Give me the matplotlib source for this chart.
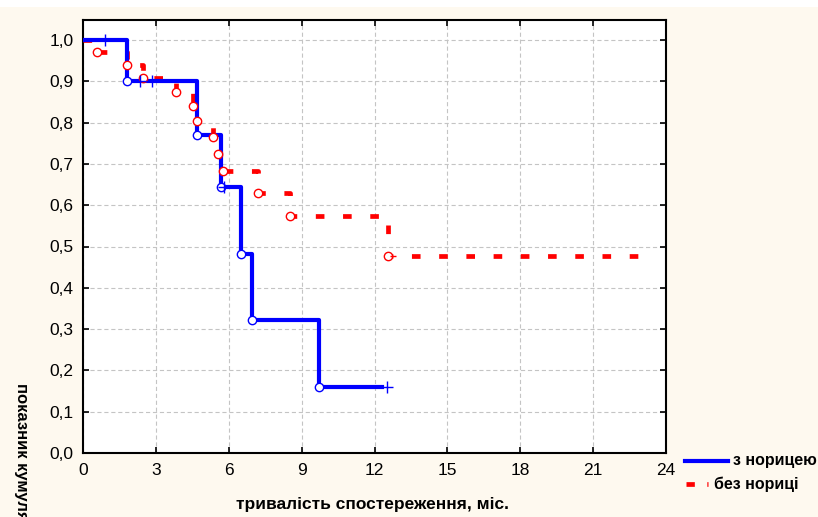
import matplotlib
matplotlib.use("Agg")
import matplotlib.pyplot as plt
from matplotlib.lines import Line2D
from matplotlib.patches import Rectangle

# Kaplan-Meier steps
# group "з норицею" (blue)
t_blue = [0, 1.8, 4.7, 5.68, 6.5, 6.95, 9.71]
s_blue = [1.0, 0.9, 0.771, 0.643, 0.482, 0.321, 0.161]
end_blue = 12.3
cens_t_blue = [0.9, 2.35, 2.84, 5.8, 12.5]
cens_s_blue = [1.0, 0.9, 0.9, 0.643, 0.161]

# group "без нориці" (red)
t_red = [0, 0.59, 1.8, 2.45, 3.83, 4.54, 4.68, 5.34, 5.57, 5.77, 7.21, 8.52, 12.57]
s_red = [1.0, 0.970, 0.939, 0.909, 0.875, 0.840, 0.804, 0.764, 0.724, 0.684, 0.629, 0.574, 0.478]
end_red = 23.5
cens_t_red = [12.75]
cens_s_red = [0.478]

xticks = [0, 3, 6, 9, 12, 15, 18, 21, 24]
yticks = [0.0, 0.1, 0.2, 0.3, 0.4, 0.5, 0.6, 0.7, 0.8, 0.9, 1.0]

plt.rcParams['font.family'] = ['Liberation Sans', 'DejaVu Sans']
plt.rcParams['lines.scale_dashes'] = False

fig = plt.figure(figsize=(8.18, 5.17), dpi=100, facecolor='#fef9ef')
# white strip at the very top (cut-off title area)
fig.add_artist(Rectangle((0, 1 - 7 / 517), 1, 7 / 517, transform=fig.transFigure,
                         facecolor='white', edgecolor='none'))

ax = fig.add_axes([83 / 818, 64 / 517, 583 / 818, 433 / 517])
ax.set_facecolor('white')
ax.set_xlim(0, 24)
ax.set_ylim(0, 433 / 413)

ax.grid(True, color='#c4c4c4', linestyle=(0, (3, 2)), linewidth=0.8)
ax.set_axisbelow(True)

# red dashed step line
xr = t_red + [end_red]
yr = s_red + [s_red[-1]]
ax.step(xr, yr, where='post', color='#ff0000', linewidth=3.4,
        dashes=(6.2, 13.4), dash_capstyle='butt', zorder=3)
ax.plot(t_red[1:], s_red[1:], 'o', mfc='white', mec='#ff0000', ms=6, mew=1, zorder=5)
ax.plot(cens_t_red, cens_s_red, '_', color='#ff0000', ms=5, mew=1, zorder=5)

# blue solid step line
xb = t_blue + [end_blue]
yb = s_blue + [s_blue[-1]]
ax.step(xb, yb, where='post', color='#0000ff', linewidth=3, zorder=4)
ax.plot(t_blue[1:], s_blue[1:], 'o', mfc='white', mec='#0000ff', ms=6, mew=1, zorder=6)
ax.plot(cens_t_blue, cens_s_blue, '+', color='#0000ff', ms=8, mew=1, zorder=6)

ax.set_xticks(xticks)
ax.set_xticklabels([str(v) for v in xticks])
ax.set_yticks(yticks)
ax.set_yticklabels([f"{v:.1f}".replace('.', ',') for v in yticks])
ax.tick_params(direction='in', length=4, width=1.2, labelsize=12.5,
               top=True, right=True, pad=7)
for sp in ax.spines.values():
    sp.set_linewidth(1.5)
    sp.set_color('black')

fig.text(372 / 818, 1 - 504 / 517, "тривалість спостереження, міс.",
         ha='center', va='center', fontsize=12.5, fontweight='bold')
fig.text(21 / 818, 1 - 383 / 517, "показник кумулятивної виживаності",
         rotation=270, ha='center', va='top', fontsize=12, fontweight='bold')

# legend drawn by hand below the right end of the axes
fig.add_artist(Line2D([685 / 818, 728 / 818], [1 - 461 / 517] * 2, transform=fig.transFigure,
                      color='#0000ff', linewidth=3))
fig.text(733 / 818, 1 - 461 / 517, "з норицею", ha='left', va='center',
         fontsize=11.5, fontweight='bold')
fig.add_artist(Line2D([686 / 818, 708 / 818], [1 - 484 / 517] * 2, transform=fig.transFigure,
                      color='#ff0000', linewidth=3.4, dashes=(6, 9),
                      dash_capstyle='butt'))
fig.text(714 / 818, 1 - 484 / 517, "без нориці", ha='left', va='center',
         fontsize=11.5, fontweight='bold')

fig.savefig("out.png", dpi=100, facecolor=fig.get_facecolor())
